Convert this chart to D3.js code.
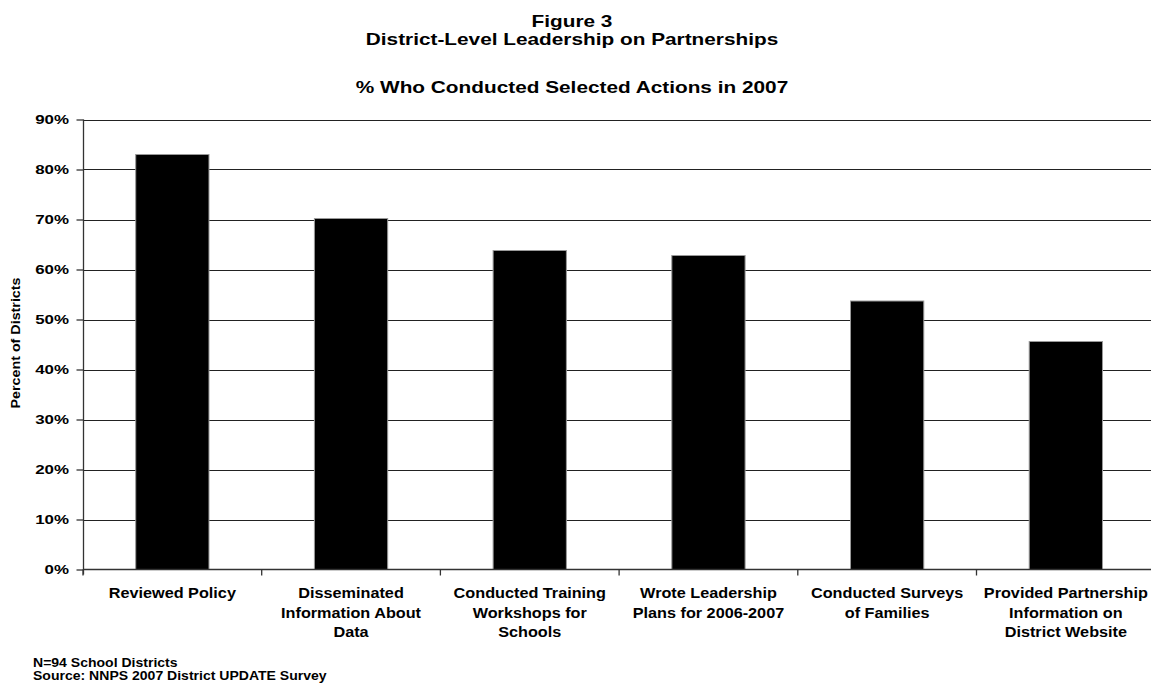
<!DOCTYPE html>
<html><head><meta charset="utf-8">
<script src="https://cdn.jsdelivr.net/npm/d3@7"></script>
<style>body{margin:0;background:#fff;} text{font-family:"Liberation Sans",Arial,sans-serif;font-weight:bold;fill:#000;}</style>
</head><body>
<svg id="c" width="1151" height="683"></svg>
<script>
const categories = [
  ["Reviewed Policy"],
  ["Disseminated","Information About","Data"],
  ["Conducted Training","Workshops for","Schools"],
  ["Wrote Leadership","Plans for 2006-2007"],
  ["Conducted Surveys","of Families"],
  ["Provided Partnership","Information on","District Website"]
];
const values = [0.83, 0.702, 0.638, 0.628, 0.537, 0.456];
const yTicks = [0,0.1,0.2,0.3,0.4,0.5,0.6,0.7,0.8,0.9];
const titleLines = ["Figure 3","District-Level Leadership on Partnerships"];
const subtitle = "% Who Conducted Selected Actions in 2007";
const yTitle = "Percent of Districts";
const notes = ["N=94 School Districts","Source: NNPS 2007 District UPDATE Survey"];

const svg = d3.select("#c");
const L = 83, R = 83 + 6*178.7, T = 119.5, B = 569.5;
const x = d3.scaleBand().domain(d3.range(categories.length)).range([L,R]).paddingInner(0.59).paddingOuter(0.295);
const y = d3.scaleLinear().domain([0,0.9]).range([B,T]);

function stext(g, str, xx, yy, size, sx, anchor){
  return g.append("text").attr("transform",`translate(${xx},${yy}) scale(${sx},1)`)
    .attr("text-anchor",anchor||"middle").style("font-size",size+"px").text(str);
}

// gridlines
svg.append("g").selectAll("line").data(yTicks.slice(1)).join("line")
  .attr("x1",L).attr("x2",R).attr("y1",d=>Math.round(y(d))+0.5).attr("y2",d=>Math.round(y(d))+0.5)
  .attr("stroke","#222").attr("stroke-width",1);

// bars
svg.append("g").selectAll("rect").data(values).join("rect")
  .attr("x",(d,i)=>x(i)).attr("width",x.bandwidth())
  .attr("y",d=>y(d)).attr("height",d=>B-y(d))
  .attr("fill","#000").attr("stroke","#999").attr("stroke-width",1);

// y axis
const ya = svg.append("g").attr("transform",`translate(${L+0.5},0)`)
  .call(d3.axisLeft(y).tickValues(yTicks).tickSize(7).tickFormat(""));
ya.selectAll("path,line").attr("stroke","#333").attr("stroke-width",1.3);
ya.select(".domain").attr("d",`M0,${T}V${B+5}`);
const tg = svg.append("g");
yTicks.forEach(t=>stext(tg, d3.format(".0%")(t), 69, y(t)+4.5, 13, 1.3, "end"));

// x axis
const xa = svg.append("g").attr("transform",`translate(0,${B})`);
xa.append("line").attr("x1",L).attr("x2",R).attr("stroke","#333").attr("stroke-width",1.3);
xa.selectAll("line.t").data(d3.range(categories.length+1)).join("line").attr("class","t")
  .attr("x1",i=>L+i*x.step()).attr("x2",i=>L+i*x.step()).attr("y1",0).attr("y2",6)
  .attr("stroke","#333").attr("stroke-width",1.3);
const cg = svg.append("g");
categories.forEach((lines,i)=>{
  const cx = x(i)+x.bandwidth()/2;
  lines.forEach((s,j)=>stext(cg, s, cx, 598+j*19.5, 14.5, 1.12));
});

// titles
stext(svg, titleLines[0], 572, 27, 16, 1.3);
stext(svg, titleLines[1], 572, 44.5, 16, 1.3);
stext(svg, subtitle, 572, 92.5, 16, 1.3);

// y title
svg.append("text").attr("transform",`translate(19.5,343) rotate(-90) scale(1.1,1)`)
  .attr("text-anchor","middle").style("font-size","13px").text(yTitle);

// notes
notes.forEach((s,i)=>stext(svg, s, 33, 666.5+i*13, 12, 1.17, "start"));
</script>
</body></html>
